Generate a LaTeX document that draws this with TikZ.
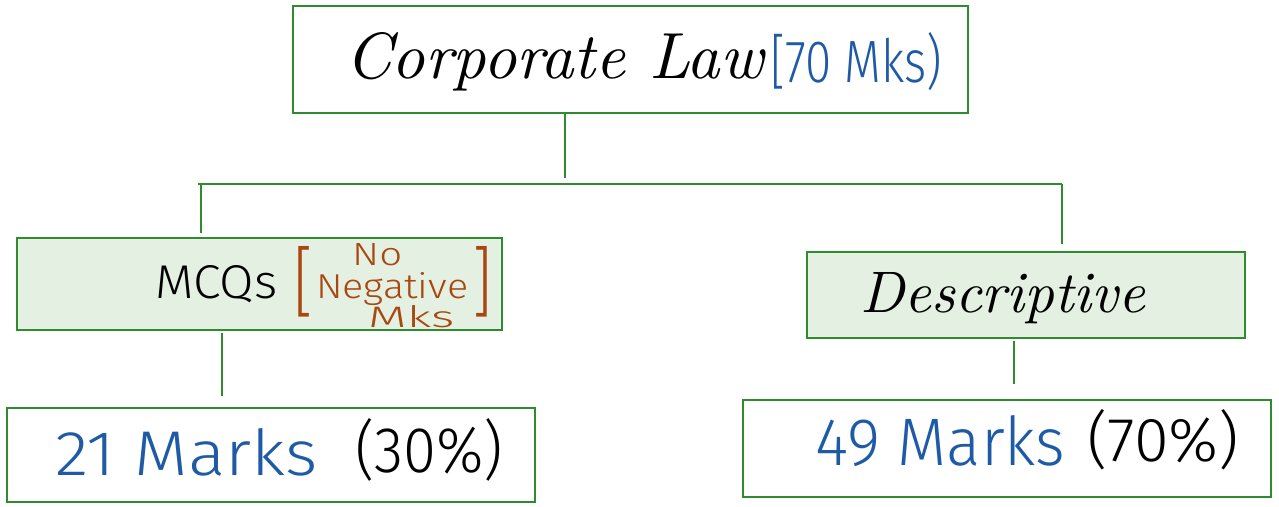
\documentclass[tikz,border=0pt]{standalone}
\usepackage{graphicx}
\usepackage{fontspec}
\newfontfamily\printhand{Fira Sans Light}
\definecolor{boxgreen}{HTML}{2E8B2E}
\definecolor{fillgreen}{HTML}{E4F0E2}
\definecolor{inkblue}{HTML}{1F5AA6}
\definecolor{inkbrown}{HTML}{A8470F}
\begin{document}
\begin{tikzpicture}[x=1pt,y=-1pt,
  box/.style={draw=boxgreen,line width=1.4pt,inner sep=0pt},
  plainbox/.style={box,fill=white},
  greenbox/.style={box,fill=fillgreen},
  link/.style={draw=boxgreen,line width=1.4pt},
  hand/.style={inner sep=0pt,anchor=base west,font=\itshape},
  print/.style={inner sep=0pt,anchor=base west,font=\printhand}
]
\useasboundingbox (0,0) rectangle (1279,506);
% boxes
\node[plainbox,minimum width=675pt,minimum height=107pt] (top) at (630.5,59.5) {};
\node[greenbox,minimum width=485pt,minimum height=92pt] (mcq) at (259.5,284) {};
\node[greenbox,minimum width=438pt,minimum height=86pt] (desc) at (1026,295) {};
\node[plainbox,minimum width=528pt,minimum height=94pt] (m21) at (271,455) {};
\node[plainbox,minimum width=528pt,minimum height=97pt] (m49) at (1007,448.5) {};
% junctions
\coordinate (j1) at (565,178);
\coordinate (barL) at (198,184);
\coordinate (barR) at (1062,184);
\coordinate (jl) at (201,184);
\coordinate (ml) at (201,233);
\coordinate (jr) at (1062,244);
\coordinate (a21) at (222,333);
\coordinate (b21) at (222,396);
\coordinate (a49) at (1014,341);
\coordinate (b49) at (1014,384);
% connectors
\draw[link] (top.south -| j1) -- (j1);
\draw[link] (barL) -- (barR);
\draw[link] (jl) -- (ml);
\draw[link] (barR) -- (jr);
\draw[link] (a21) -- (b21);
\draw[link] (a49) -- (b49);
% texts
\node[hand] (t1) at (345,78) {\resizebox{418pt}{46pt}{Corporate Law}};
\node[print,text=inkblue] (t2) at (770,82) {\resizebox{172pt}{50pt}{[70 Mks)}};
\node[print] (t3) at (155,298) {\resizebox{122pt}{33pt}{MCQs}};
\node[print,text=inkbrown] (t4) at (293,308) {\resizebox{20pt}{62pt}{[}};
\node[print,text=inkbrown] (t5) at (352,265) {\resizebox{50pt}{22pt}{No}};
\node[print,text=inkbrown] (t6) at (316,298) {\resizebox{152pt}{26pt}{Negative}};
\node[print,text=inkbrown] (t7) at (368,327) {\resizebox{86pt}{22pt}{Mks}};
\node[print,text=inkbrown] (t8) at (472,308) {\resizebox{20pt}{62pt}{]}};
\node[hand] (t9) at (860,312) {\resizebox{285pt}{40pt}{Descriptive}};
\node[print,text=inkblue] (t10) at (55,475) {\resizebox{262pt}{47pt}{21 Marks}};
\node[print] (t11) at (355,472) {\resizebox{148pt}{54pt}{(30\%)}};
\node[print,text=inkblue] (t12) at (815,465) {\resizebox{250pt}{50pt}{49 Marks}};
\node[print] (t13) at (1087,461) {\resizebox{152pt}{52pt}{(70\%)}};
\end{tikzpicture}
\end{document}
